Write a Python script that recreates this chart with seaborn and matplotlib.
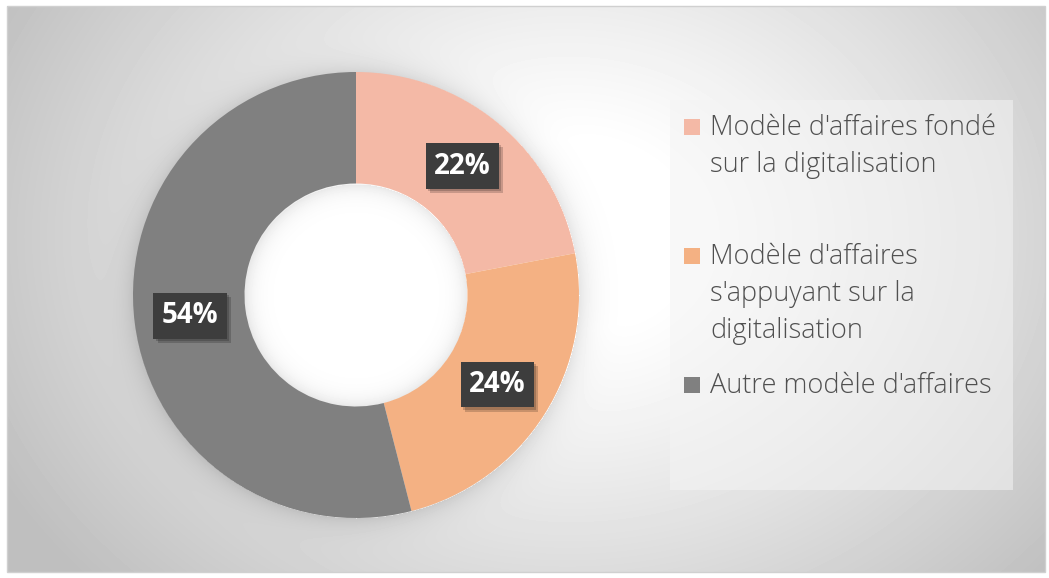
import numpy as np
import matplotlib
matplotlib.use("Agg")
import matplotlib.pyplot as plt
import matplotlib.patheffects as pe
from matplotlib.patches import Rectangle
import seaborn as sns

# --- data --- #
categories = ["Modèle d'affaires fondé\nsur la digitalisation",
              "Modèle d'affaires\ns'appuyant sur la\ndigitalisation",
              "Autre modèle d'affaires"]
shares = [22, 24, 54]
colors = ["#F4B9A6", "#F4B183", "#808080"]

sns.set_theme(style="white")
plt.rcParams['font.family'] = ['Open Sans', 'DejaVu Sans']

W, H = 1049, 578
fig = plt.figure(figsize=(W / 100, H / 100), dpi=100)
fig.patch.set_facecolor("white")

r = 223
r_in = 111
cx, cy = 356, 578 - 295

# background with radial gradient inside the frame, plus soft shadow of the ring
x0, y0 = 7, 6
bg = fig.add_axes([x0 / W, y0 / H, (1045 - x0) / W, (572 - y0) / H])
yy, xx = np.mgrid[0:566, 0:1038]
dist = np.sqrt((xx - 560) ** 2 + ((yy - 230) * 1.25) ** 2)
shade = 1.0 - 0.25 * np.clip((dist - 120) / 520, 0, 1) ** 1.1
dd = np.sqrt((xx + x0 - 356) ** 2 + (yy + y0 - 295) ** 2)
shade = shade - np.where(dd > r, 0.10 * np.exp(-(dd - r) / 12), 0)
shade = np.where(dd < r_in, 1.0 - 0.09 * np.exp(-(r_in - dd) / 9), shade)
bg.imshow(shade, cmap="gray", vmin=0, vmax=1, aspect="auto", interpolation="bilinear")
bg.set_axis_off()
fig.add_artist(Rectangle((x0 / W, y0 / H), (1045 - x0) / W, (572 - y0) / H,
                         transform=fig.transFigure, fill=False,
                         edgecolor="#d0d0d0", linewidth=1))

# donut
ax = fig.add_axes([(cx - r) / W, (cy - r) / H, 2 * r / W, 2 * r / H])
wedges, texts, autotexts = ax.pie(shares, colors=colors, startangle=90, counterclock=False,
                                  radius=1.0, wedgeprops=dict(width=0.5, linewidth=0),
                                  autopct=lambda p: f"{p:.0f}%", pctdistance=0.75,
                                  textprops=dict(color="white", fontsize=20, fontweight="bold"))
ax.set_xlim(-1, 1)
ax.set_ylim(-1, 1)
ax.set_aspect("auto")
ax.set_axis_off()
for t in autotexts:
    t.set_bbox(dict(boxstyle="square,pad=0.3", facecolor="#3d3d3d", edgecolor="none"))
    t.get_bbox_patch().set_path_effects([
        pe.SimplePatchShadow(offset=(3, -3), shadow_rgbFace="#000000", alpha=0.18),
        pe.SimplePatchShadow(offset=(1.5, -1.5), shadow_rgbFace="#000000", alpha=0.18),
        pe.Normal()])

# legend box
fig.add_artist(Rectangle((670 / W, (578 - 490) / H), (1013 - 670) / W, (490 - 100) / H,
                         transform=fig.transFigure, facecolor="#f4f4f4", alpha=0.55,
                         edgecolor="none"))
legend_baselines = [135, 264, 393]
for label, col, base in zip(categories, colors, legend_baselines):
    fig.add_artist(Rectangle((684 / W, (578 - base) / H), 16 / W, 16 / H,
                             transform=fig.transFigure, facecolor=col, edgecolor="none"))
    lines = label.split("\n")
    for i, line in enumerate(lines):
        fig.text(710 / W, (578 - base - 37 * i) / H, line, fontsize=19.5, color="#505050",
                 va="baseline", ha="left", fontweight="light")

plt.savefig("out.png", dpi=100)
